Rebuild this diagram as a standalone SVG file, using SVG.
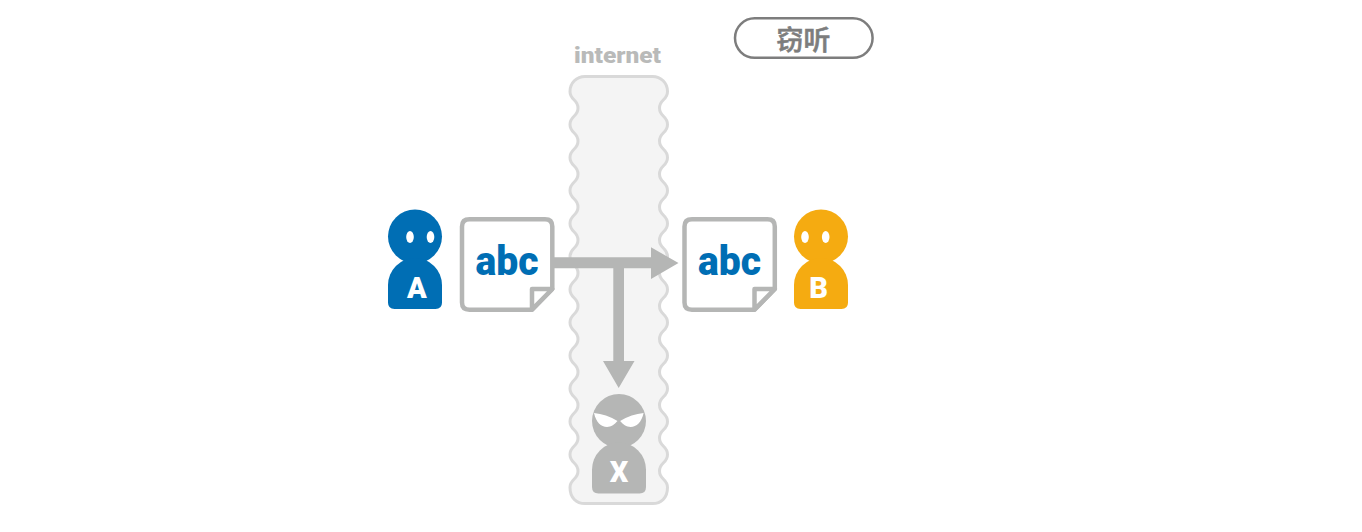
<svg xmlns="http://www.w3.org/2000/svg" width="1362" height="532" viewBox="0 0 1362 532">
<style>
.lat{font-family:Roboto,"Noto Sans",sans-serif;font-weight:900}
.abc{font-size:41px;fill:#006eb4;text-anchor:middle}
.lbl{font-size:29px;fill:#fff;text-anchor:middle}
.doc{fill:#fff;stroke:#b5b6b5;stroke-width:4.500;stroke-linejoin:round}
.eye{fill:#fff}
</style>
<defs>
<g id="body"><circle cx="415" cy="236.500" r="27"/><path d="M388 285A27 27 0 0 1 442 285V302.500Q442 309 435.500 309H394.500Q388 309 388 302.500Z"/></g>
<g id="doc"><path class="doc" d="M469.500 219.300H545Q552.300 219.300 552.300 226.500V289L532 309.700H469.500Q462 309.700 462 302.500V226.500Q462 219.300 469.500 219.300Z"/><path class="doc" d="M552.300 289H532V309.700Z"/></g>
</defs>
<g id="internet">
<path fill="#f4f4f4" stroke="#d9d9d9" stroke-width="3" d="M585 76.500H652.500C661 76.500 667.500 83 667.500 91.500
c0 9-8 7.500-8 16.500c0 9 8 7.500 8 16.500
c0 9-8 7.500-8 16.500c0 9 8 7.500 8 16.500
c0 9-8 7.500-8 16.500c0 9 8 7.500 8 16.500
c0 9-8 7.500-8 16.500c0 9 8 7.500 8 16.500
c0 9-8 7.500-8 16.500c0 9 8 7.500 8 16.500
c0 9-8 7.500-8 16.500c0 9 8 7.500 8 16.500
c0 9-8 7.500-8 16.500c0 9 8 7.500 8 16.500
c0 9-8 7.500-8 16.500c0 9 8 7.500 8 16.500
c0 9-8 7.500-8 16.500c0 9 8 7.500 8 16.500
c0 9-8 7.500-8 16.500c0 9 8 7.500 8 16.500
c0 9-8 7.500-8 16.500c0 9 8 7.500 8 16.500
c0 9-8 7.500-8 16.500c0 9 8 7.500 8 16.500
C667.500 498 661 503.500 652.500 503.500H585C576.500 503.500 570 498 570 487.500
c0-9 8-7.500 8-16.500c0-9-8-7.500-8-16.500
c0-9 8-7.500 8-16.500c0-9-8-7.500-8-16.500
c0-9 8-7.500 8-16.500c0-9-8-7.500-8-16.500
c0-9 8-7.500 8-16.500c0-9-8-7.500-8-16.500
c0-9 8-7.500 8-16.500c0-9-8-7.500-8-16.500
c0-9 8-7.500 8-16.500c0-9-8-7.500-8-16.500
c0-9 8-7.500 8-16.500c0-9-8-7.500-8-16.500
c0-9 8-7.500 8-16.500c0-9-8-7.500-8-16.500
c0-9 8-7.500 8-16.500c0-9-8-7.500-8-16.500
c0-9 8-7.500 8-16.500c0-9-8-7.500-8-16.500
c0-9 8-7.500 8-16.500c0-9-8-7.500-8-16.500
c0-9 8-7.500 8-16.500c0-9-8-7.500-8-16.500
C570 83 576.500 76.500 585 76.500Z"/>
<text class="lat" x="617.500" y="63.300" font-size="22.500" fill="#b9bab9" text-anchor="middle" textLength="87" lengthAdjust="spacingAndGlyphs">internet</text>
</g>
<g id="legend">
<rect x="735" y="18.300" width="137.600" height="39.500" rx="19.700" fill="#fff" stroke="#7d7d7d" stroke-width="2.500"/>
<text x="803.500" y="50" font-size="27" font-weight="500" fill="#7d7d7d" stroke="#7d7d7d" stroke-width="0.600" text-anchor="middle" font-family="'Noto Sans CJK SC',sans-serif">窃听</text>
</g>
<g id="user-a">
<use href="#body" fill="#006eb4"/>
<ellipse class="eye" cx="410" cy="237" rx="3.800" ry="6"/><ellipse class="eye" cx="430.500" cy="237" rx="3.800" ry="6"/>
<text class="lat lbl" x="417" y="298">A</text>
</g>
<g id="doc-a"><use href="#doc"/><text class="lat abc" x="507" y="275" textLength="63" lengthAdjust="spacingAndGlyphs">abc</text></g>
<g id="doc-b"><use href="#doc" x="222.500"/><text class="lat abc" x="729.500" y="275" textLength="63" lengthAdjust="spacingAndGlyphs">abc</text></g>
<g id="user-b">
<use href="#body" x="406" fill="#f5ab11"/>
<ellipse class="eye" cx="805" cy="237" rx="3.800" ry="6"/><ellipse class="eye" cx="825.700" cy="237" rx="3.800" ry="6"/>
<text class="lat lbl" x="818.500" y="298">B</text>
</g>
<g id="user-x">
<use href="#body" x="204" y="184.500" fill="#b5b6b5"/>
<path class="eye" d="M594 413Q606 414 617.500 421C615 424 611 427 607 427C601 427 596 422 594 413ZM643.600 413Q631.600 414 620.100 421C622.600 424 626.600 427 630.600 427C636.600 427 641.600 422 643.600 413Z"/>
<text class="lat lbl" x="619" y="482">X</text>
</g>
<g id="connectors" fill="#b5b6b5">
<path d="M554 257.300H651V247.300L678.500 263L651 279V268.300H624V361H634.500L618.700 388L603 361H613.300V268.300H554Z"/>
</g>
</svg>
